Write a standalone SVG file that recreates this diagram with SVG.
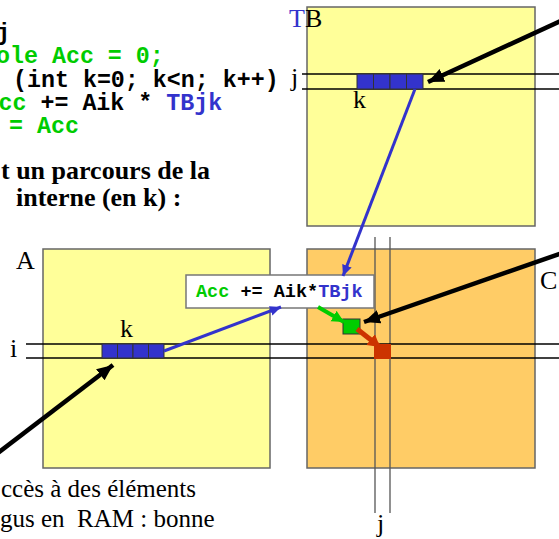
<svg xmlns="http://www.w3.org/2000/svg" width="559" height="539" viewBox="0 0 559 539">
<style>
.code{font-family:"Liberation Mono","Courier New",monospace;font-weight:bold;font-size:23.3px}
.box{font-family:"Liberation Mono","Courier New",monospace;font-weight:bold;font-size:18.5px}
.g{fill:#00CC00}.b{fill:#3333CC}.k{fill:#000}
.tm{font-family:"Liberation Serif","Times New Roman",serif;font-size:25px;fill:#000}
.lb{font-family:"Liberation Serif","Times New Roman",serif;font-size:26px;fill:#000}
.tb{font-family:"Liberation Serif","Times New Roman",serif;font-size:26px;font-weight:bold;fill:#000}
.mat{fill:#FFFF99;stroke:#666;stroke-width:1.5}
.matc{fill:#FFCC66;stroke:#666;stroke-width:1.5}
.row{stroke:#000;stroke-width:1.5}
.col{stroke:#555;stroke-width:1.3}
.cell{fill:#3333CC;stroke:#333;stroke-width:1}
</style>
<defs>
<marker id="ab" markerUnits="userSpaceOnUse" markerWidth="20" markerHeight="16" refX="16" refY="7" orient="auto"><path d="M0,0 L16,7 L0,14 Z" fill="#000"/></marker>
<marker id="au" markerUnits="userSpaceOnUse" markerWidth="14" markerHeight="12" refX="11" refY="5" orient="auto"><path d="M0,0 L11,5 L0,10 Z" fill="#3333CC"/></marker>
<marker id="ag" markerUnits="userSpaceOnUse" markerWidth="16" markerHeight="14" refX="12" refY="6" orient="auto"><path d="M0,0 L12,6 L0,12 Z" fill="#00CC00"/></marker>
<marker id="ar" markerUnits="userSpaceOnUse" markerWidth="18" markerHeight="16" refX="12" refY="7" orient="auto"><path d="M0,0 L12,7 L0,14 Z" fill="#CC3300"/></marker>
</defs>

<g id="code">
<text class="code k" x="-4" y="39.5">j</text>
<text class="code g" x="-4" y="63">ole Acc = 0;</text>
<text class="code k" x="13" y="86.5">(int k=0; k&lt;n; k++)</text>
<text class="code" x="-1.5" y="110"><tspan class="g">cc</tspan><tspan class="k"> += Aik * </tspan><tspan class="b">TBjk</tspan></text>
<text class="code g" x="9" y="133">= Acc</text>
</g>

<g id="caption-top">
<text class="tb" x="1" y="179">t un parcours de la</text>
<text class="tb" x="16" y="206">interne (en k) :</text>
</g>

<g id="caption-bottom">
<text class="tm" x="1" y="497">ccès à des éléments</text>
<text class="tm" x="0" y="527" xml:space="preserve">gus en  RAM : bonne</text>
</g>

<g id="matrix-TB">
<rect class="mat" x="307" y="7" width="228" height="219"/>
<line class="row" x1="302" y1="74" x2="559" y2="74"/>
<line class="row" x1="302" y1="89" x2="559" y2="89"/>
<rect class="cell" x="357" y="74" width="16.5" height="15"/>
<rect class="cell" x="373.5" y="74" width="16.5" height="15"/>
<rect class="cell" x="390" y="74" width="16.5" height="15"/>
<rect class="cell" x="406.5" y="74" width="16.5" height="15"/>
<text class="lb" x="289" y="27"><tspan fill="#3333CC">T</tspan>B</text>
<text class="lb" x="291" y="86">j</text>
<text class="lb" x="353" y="108">k</text>
</g>

<g id="matrix-A">
<rect class="mat" x="43" y="249" width="227" height="219"/>
<text class="lb" x="16" y="269">A</text>
<text class="lb" x="10" y="357">i</text>
<text class="lb" x="120" y="337">k</text>
</g>

<g id="matrix-C">
<rect class="matc" x="307" y="249" width="228" height="219"/>
<line class="col" x1="375" y1="237" x2="375" y2="513"/>
<line class="col" x1="390" y1="237" x2="390" y2="513"/>
<text class="lb" x="540" y="289">C</text>
<text class="lb" x="377" y="532">j</text>
</g>

<g id="rows-i">
<line class="row" x1="26" y1="344" x2="559" y2="344"/>
<line class="row" x1="26" y1="358" x2="559" y2="358"/>
</g>

<g id="cells-A">
<rect class="cell" x="102" y="344" width="15.5" height="14"/>
<rect class="cell" x="117.5" y="344" width="15.5" height="14"/>
<rect class="cell" x="133" y="344" width="15.5" height="14"/>
<rect class="cell" x="148.5" y="344" width="15.5" height="14"/>
</g>

<g id="cells-C">
<rect x="343" y="319" width="17" height="15" fill="#00CC00" stroke="#333" stroke-width="1"/>
<rect x="374" y="344" width="17" height="15" fill="#CC3300"/>
</g>

<g id="box">
<rect x="186" y="275" width="188" height="33" fill="#fff" stroke="#777" stroke-width="1.5"/>
<text class="box" x="196" y="297"><tspan class="g">Acc</tspan><tspan class="k"> += Aik*</tspan><tspan class="b">TBjk</tspan></text>
</g>

<g id="connectors" fill="none">
<line x1="415" y1="89" x2="343" y2="276" stroke="#3333CC" stroke-width="3" marker-end="url(#au)"/>
<line x1="164" y1="351" x2="281" y2="307" stroke="#3333CC" stroke-width="3" marker-end="url(#au)"/>
<line x1="318" y1="307" x2="344" y2="322" stroke="#00CC00" stroke-width="4" marker-end="url(#ag)"/>
<line x1="357" y1="329" x2="380" y2="347" stroke="#CC3300" stroke-width="5" marker-end="url(#ar)"/>
<line x1="565" y1="19" x2="428" y2="82" stroke="#000" stroke-width="4.5" marker-end="url(#ab)"/>
<line x1="565" y1="252" x2="364" y2="322" stroke="#000" stroke-width="4.5" marker-end="url(#ab)"/>
<line x1="-6" y1="456" x2="113" y2="365" stroke="#000" stroke-width="4.5" marker-end="url(#ab)"/>
</g>
</svg>
